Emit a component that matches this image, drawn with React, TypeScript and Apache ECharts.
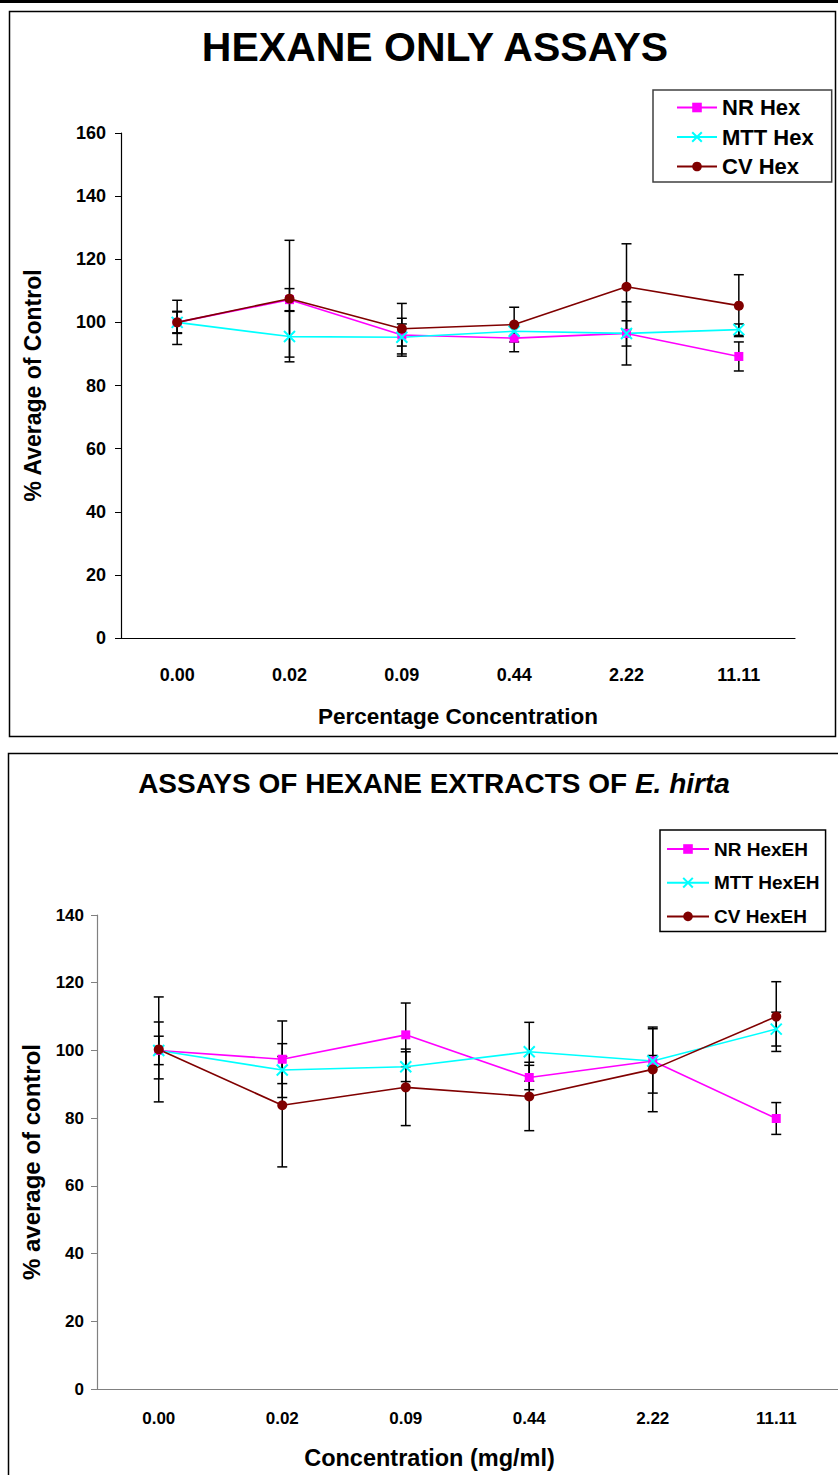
import React, { useEffect, useRef } from "react";
import * as echarts from "echarts";

const categories = ["0.00", "0.02", "0.09", "0.44", "2.22", "11.11"];
const yTicks1 = [0, 20, 40, 60, 80, 100, 120, 140, 160];
const yTicks2 = [0, 20, 40, 60, 80, 100, 120, 140];

// Chart 1: hexane only
const nrHex = [100, 107.2, 96, 95, 96.5, 89.2];
const nrHexErr = [3.5, 3.5, 3.5, 4.3, 4, 4.6];
const mttHex = [100, 95.5, 95.3, 97.2, 96.5, 97.7];
const mttHexErr = [3.3, 8, 6, 1.5, 10, 1.8];
const cvHex = [100, 107.5, 98, 99.3, 111.3, 105.3];
const cvHexErr = [7, 18.5, 8, 5.5, 13.6, 9.8];

// Chart 2: hexane extracts of E. hirta
const nrHexEH = [100, 97.4, 104.6, 92, 96.9, 79.9];
const nrHexEHErr = [8.4, 11.3, 9.4, 3.6, 1.6, 4.7];
const mttHexEH = [100, 94.2, 95.2, 99.6, 96.9, 106.3];
const mttHexEHErr = [4.2, 4, 4.4, 8.7, 9.5, 5];
const cvHexEH = [100.3, 83.8, 89.1, 86.4, 94.4, 110];
const cvHexEHErr = [15.5, 18.2, 11.3, 10.1, 12.5, 10.3];

const FONT = "'Liberation Sans', Arial, sans-serif";
const NR_COLOR = "#FF00FF";
const MTT_COLOR = "#00FFFF";
const CV_COLOR = "#800000";
const CROSS = "path://M0,0L10,10M10,0L0,10";

function errSeries(values: number[], errs: number[], gi: number) {
  return {
    type: "custom",
    xAxisIndex: gi,
    yAxisIndex: gi,
    z: 1,
    silent: true,
    data: values.map((v, i) => [i, v - errs[i], v + errs[i]]),
    encode: { x: 0, y: [1, 2] },
    renderItem: (params: any, api: any) => {
      const x = api.value(0);
      const lo = api.coord([x, api.value(1)]);
      const hi = api.coord([x, api.value(2)]);
      const hw = 5;
      const st = { stroke: "#000", lineWidth: 1.5 };
      return {
        type: "group",
        children: [
          { type: "line", shape: { x1: hi[0], y1: hi[1], x2: lo[0], y2: lo[1] }, style: st },
          { type: "line", shape: { x1: hi[0] - hw, y1: hi[1], x2: hi[0] + hw, y2: hi[1] }, style: st },
          { type: "line", shape: { x1: lo[0] - hw, y1: lo[1], x2: lo[0] + hw, y2: lo[1] }, style: st },
        ],
      };
    },
  };
}

function lineSeries(name: string, values: number[], color: string, kind: string, gi: number) {
  const sym =
    kind === "rect"
      ? { symbol: "rect", symbolSize: 9, itemStyle: { color } }
      : kind === "cross"
      ? { symbol: CROSS, symbolSize: 11, itemStyle: { color, borderColor: color, borderWidth: 2 } }
      : { symbol: "circle", symbolSize: 10, itemStyle: { color } };
  return {
    type: "line",
    name,
    xAxisIndex: gi,
    yAxisIndex: gi,
    z: 3,
    data: values,
    lineStyle: { color, width: 1.6 },
    ...sym,
  };
}

export default function App() {
  const ref = useRef<HTMLDivElement>(null);
  useEffect(() => {
    document.body.style.margin = "0";
    const chart = echarts.init(ref.current!, undefined, { renderer: "svg" });
    const boldText = { fontFamily: FONT, fontWeight: "bold", color: "#000" };
    chart.setOption({
      animation: false,
      backgroundColor: "#fff",
      title: [
        {
          text: "HEXANE ONLY ASSAYS",
          left: 430,
          top: 21,
          textAlign: "center",
          textStyle: { ...boldText, fontSize: 41 },
        },
        {
          text: "ASSAYS OF HEXANE EXTRACTS OF {i|E. hirta}",
          left: 429,
          top: 764,
          textAlign: "center",
          textStyle: {
            ...boldText,
            fontSize: 28,
            rich: { i: { ...boldText, fontSize: 28, fontStyle: "italic" } },
          },
        },
      ],
      graphic: [
        { type: "rect", shape: { x: 0, y: 0, width: 838, height: 3 }, style: { fill: "#000" }, silent: true },
        { type: "rect", shape: { x: 9.5, y: 11.5, width: 826, height: 725 }, style: { fill: "none", stroke: "#000", lineWidth: 1.5 }, silent: true },
        { type: "rect", shape: { x: 8.5, y: 753.5, width: 900, height: 800 }, style: { fill: "none", stroke: "#000", lineWidth: 1.5 }, silent: true },
      ],
      legend: [
        {
          data: ["NR Hex", "MTT Hex", "CV Hex"],
          orient: "vertical",
          left: 653,
          top: 90,
          padding: [6, 18, 4, 23],
          itemWidth: 40,
          itemHeight: 12,
          itemGap: 6.5,
          borderColor: "#404040",
          borderWidth: 1.5,
          textStyle: { ...boldText, fontSize: 22, lineHeight: 23 },
        },
        {
          data: ["NR HexEH", "MTT HexEH", "CV HexEH"],
          orient: "vertical",
          left: 660,
          top: 830,
          padding: [9, 6, 5, 6],
          itemWidth: 42,
          itemHeight: 12,
          itemGap: 13.7,
          borderColor: "#000",
          borderWidth: 1.5,
          textStyle: { ...boldText, fontSize: 19, lineHeight: 20 },
        },
      ],
      grid: [
        { left: 121, top: 133, width: 674, height: 505 },
        { left: 97, top: 915, width: 742, height: 474 },
      ],
      xAxis: [
        {
          type: "category",
          gridIndex: 0,
          data: categories,
          boundaryGap: true,
          axisLine: { lineStyle: { color: "#000", width: 1.2 } },
          axisTick: { length: 8, lineStyle: { color: "#000" } },
          axisLabel: { ...boldText, fontSize: 18, margin: 28 },
          name: "Percentage Concentration",
          nameLocation: "middle",
          nameGap: 67,
          nameTextStyle: { ...boldText, fontSize: 22.5 },
        },
        {
          type: "category",
          gridIndex: 1,
          data: categories,
          boundaryGap: true,
          axisLine: { lineStyle: { color: "#808080", width: 1.2 } },
          axisTick: { length: 6, lineStyle: { color: "#000" } },
          axisLabel: { ...boldText, fontSize: 17, margin: 21 },
          name: "Concentration (mg/ml)",
          nameLocation: "middle",
          nameGap: 57,
          nameTextStyle: { ...boldText, fontSize: 23.5, padding: [0, 76, 0, 0] },
        },
      ],
      yAxis: [
        {
          type: "value",
          gridIndex: 0,
          min: yTicks1[0],
          max: yTicks1[yTicks1.length - 1],
          interval: 20,
          splitLine: { show: false },
          axisLine: { show: true, lineStyle: { color: "#000", width: 1.2 } },
          axisTick: { show: true, length: 6, lineStyle: { color: "#000" } },
          axisLabel: { ...boldText, fontSize: 18, margin: 15 },
          name: "% Average of Control",
          nameLocation: "middle",
          nameGap: 77,
          nameTextStyle: { ...boldText, fontSize: 23 },
        },
        {
          type: "value",
          gridIndex: 1,
          min: yTicks2[0],
          max: yTicks2[yTicks2.length - 1],
          interval: 20,
          splitLine: { show: false },
          axisLine: { show: true, lineStyle: { color: "#808080", width: 1.2 } },
          axisTick: { show: true, length: 6, lineStyle: { color: "#808080" } },
          axisLabel: { ...boldText, fontSize: 17, margin: 13 },
          name: "% average of control",
          nameLocation: "middle",
          nameGap: 54,
          nameTextStyle: { ...boldText, fontSize: 24, padding: [0, 20, 0, 0] },
        },
      ],
      series: [
        errSeries(nrHex, nrHexErr, 0),
        errSeries(mttHex, mttHexErr, 0),
        errSeries(cvHex, cvHexErr, 0),
        lineSeries("NR Hex", nrHex, NR_COLOR, "rect", 0),
        lineSeries("MTT Hex", mttHex, MTT_COLOR, "cross", 0),
        lineSeries("CV Hex", cvHex, CV_COLOR, "circle", 0),
        errSeries(nrHexEH, nrHexEHErr, 1),
        errSeries(mttHexEH, mttHexEHErr, 1),
        errSeries(cvHexEH, cvHexEHErr, 1),
        lineSeries("NR HexEH", nrHexEH, NR_COLOR, "rect", 1),
        lineSeries("MTT HexEH", mttHexEH, MTT_COLOR, "cross", 1),
        lineSeries("CV HexEH", cvHexEH, CV_COLOR, "circle", 1),
      ],
    });
    return () => chart.dispose();
  }, []);
  return <div ref={ref} style={{ width: 838, height: 1475 }} />;
}
